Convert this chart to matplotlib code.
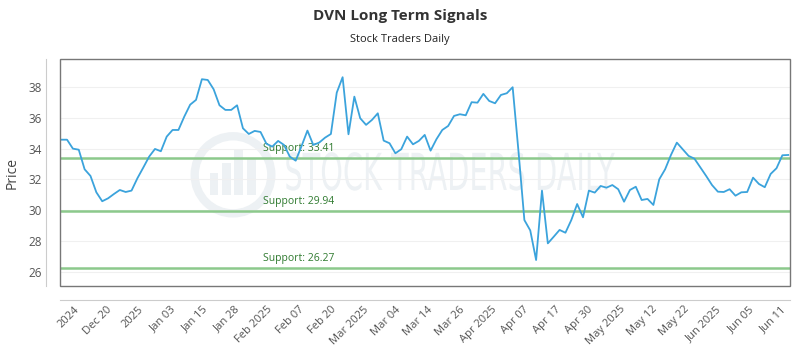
import numpy as np
import matplotlib
matplotlib.use("Agg")
import matplotlib.pyplot as plt
from matplotlib.patches import Rectangle, Ellipse, PathPatch
from matplotlib.textpath import TextPath
from matplotlib.font_manager import FontProperties
from matplotlib.transforms import Affine2D

plt.rcParams['font.family'] = ['Open Sans', 'DejaVu Sans']

# daily closes
prices = [
    34.58, 34.58, 34.00, 33.93, 32.66, 32.23, 31.17, 30.59, 30.78, 31.06,
    31.32, 31.19, 31.28, 32.08, 32.77, 33.48, 33.98, 33.83, 34.78, 35.21,
    35.21, 36.08, 36.85, 37.16, 38.50, 38.45, 37.85, 36.81, 36.51, 36.51,
    36.81, 35.32, 34.95, 35.15, 35.08, 34.32, 34.13, 34.50, 34.24, 33.48,
    33.22, 34.17, 35.17, 34.24, 34.39, 34.71, 34.95, 37.63, 38.63, 34.93,
    37.37, 35.97, 35.54, 35.86, 36.29, 34.52, 34.35, 33.70, 33.96, 34.78,
    34.28, 34.50, 34.89, 33.87, 34.61, 35.21, 35.47, 36.12, 36.23, 36.16,
    37.01, 36.98, 37.55, 37.09, 36.94, 37.48, 37.59, 37.98, 33.80, 29.37,
    28.70, 26.78, 31.28, 27.86, 28.29, 28.73, 28.55, 29.37, 30.41, 29.55,
    31.28, 31.15, 31.58, 31.47, 31.64, 31.37, 30.56, 31.32, 31.53, 30.67,
    30.74, 30.35, 32.01, 32.66, 33.59, 34.39, 33.96, 33.53, 33.35, 32.79,
    32.23, 31.64, 31.21, 31.19, 31.37, 30.95, 31.17, 31.19, 32.12, 31.71,
    31.50, 32.36, 32.73, 33.57, 33.59,
]
supports = [33.41, 29.94, 26.27]
tick_labels = ["2024", "Dec 20", "2025", "Jan 03", "Jan 15", "Jan 28", "Feb 2025",
               "Feb 07", "Feb 20", "Mar 2025", "Mar 04", "Mar 14", "Mar 26",
               "Apr 2025", "Apr 07", "Apr 17", "Apr 30", "May 2025", "May 12",
               "May 22", "Jun 2025", "Jun 05", "Jun 11"]
y_ticks = [26, 28, 30, 32, 34, 36, 38]

x = np.arange(len(prices))

fig = plt.figure(figsize=(8, 3.5), dpi=100)
ax = fig.add_axes([0.075, 0.183, 0.9125, 0.648])

# spines first: set_position resets the tick objects
for side in ['top', 'right']:
    ax.spines[side].set_visible(False)
for side in ['left', 'bottom']:
    ax.spines[side].set_position(('outward', 10))
    ax.spines[side].set_color('#cccccc')
ax.add_patch(Rectangle((0, 0), 1, 1, transform=ax.transAxes, fill=False,
                       ec='#777777', lw=1, zorder=5, clip_on=False))

# faint watermark
wm = '#edf1f4'
ax.add_patch(Ellipse((0.237, 0.49), 0.105, 0.34, transform=ax.transAxes, fill=False,
                     ec=wm, lw=6, zorder=0))
for bx, bh in [(0.205, 0.10), (0.222, 0.14), (0.239, 0.20), (0.256, 0.16)]:
    ax.add_patch(Rectangle((bx, 0.40), 0.012, bh, transform=ax.transAxes,
                           fc=wm, ec='none', zorder=0))
tp = TextPath((0, 0), "STOCK TRADERS DAILY", size=1,
              prop=FontProperties(family='DejaVu Sans'))
ext = tp.get_extents()
wm_path = (Affine2D().translate(-ext.x0, -ext.y0)
           .scale(0.45 / ext.width, 0.17 / ext.height)
           .translate(0.31, 0.42)).transform_path(tp)
ax.add_patch(PathPatch(wm_path, transform=ax.transAxes, fc=wm, ec='none', zorder=0))

for s in supports:
    ax.axhline(s, color='#8cc98c', lw=1.8, zorder=2)
    ax.text(34.5, s + 0.25, f"Support: {s:.2f}", color='#2f7a2f', fontsize=7.5,
            va='bottom', ha='left', zorder=3)

ax.plot(x, prices, color='#3ba3dc', lw=1.3, zorder=4)

ax.set_xlim(-0.2, 124.3)
ax.set_ylim(25.1, 39.8)
ax.set_yticks(y_ticks)
ax.set_xticks(np.linspace(3.5, 124, len(tick_labels)))
ax.set_xticklabels(tick_labels, rotation=45, ha='right')
ax.tick_params(axis='y', labelsize=8.5, labelcolor='#555555', length=0, pad=3)
ax.tick_params(axis='x', length=0, pad=3, labelsize=8, labelcolor='#555555')
ax.grid(axis='y', color='#f0f0f0', lw=0.8, zorder=1)

ax.set_ylabel("Price", fontsize=10, color='#444444', labelpad=6)
fig.text(0.5, 0.955, "DVN Long Term Signals", ha='center', va='center',
         fontsize=11, fontweight='bold', color='#333333')
fig.text(0.5, 0.886, "Stock Traders Daily", ha='center', va='center',
         fontsize=8, color='#222222')

fig.savefig("out.png", dpi=100)
